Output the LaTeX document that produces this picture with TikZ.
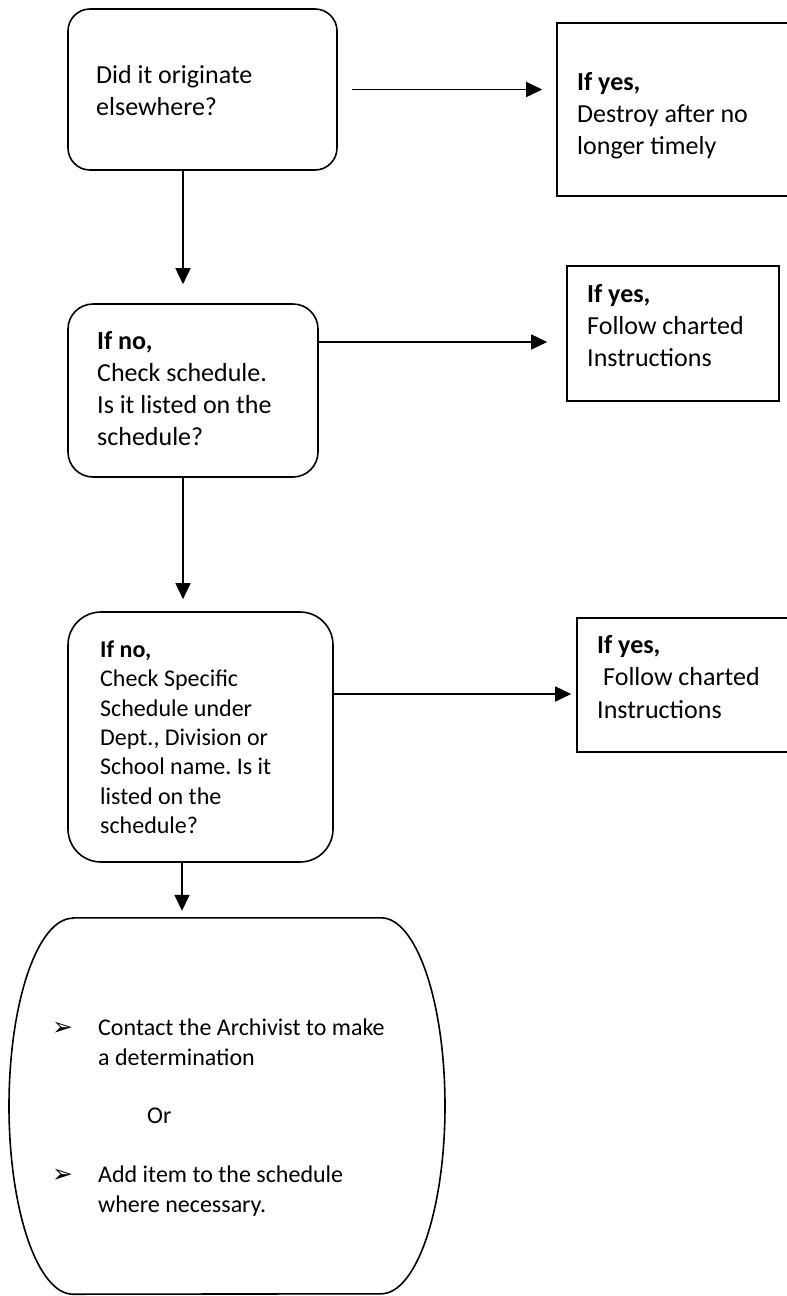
\documentclass[tikz,border=0pt]{standalone}
\usepackage{fontspec}
\setmainfont{Carlito}
\newfontfamily\dingfont{DejaVu Sans}
\usepackage{tikz}
\usetikzlibrary{arrows.meta,positioning}
\frenchspacing
\newcommand{\bigtxt}{\fontsize{26}{32}\selectfont}
\newcommand{\smalltxt}{\fontsize{24}{29.4}\selectfont}
\newcommand{\arrowbullet}{\makebox[46pt][l]{\dingfont\fontsize{25}{25}\selectfont ➢}}

\begin{document}
\begin{tikzpicture}[x=1pt,y=-1pt,
  qbox/.style={draw,line width=1.6pt,inner sep=0pt},
  abox/.style={draw,line width=1.6pt,inner sep=0pt},
  txt/.style={anchor=north west,inner sep=0pt,align=left},
  arr/.style={line width=1.6pt,-{Triangle[length=16pt,width=15pt]}}]
  \useasboundingbox (0,0) rectangle (787,1296);
  % question boxes
  \node[qbox,rounded corners=22pt,minimum width=269pt,minimum height=161pt] (q1) at (202.5,89.5) {};
  \node[qbox,rounded corners=25pt,minimum width=250pt,minimum height=173pt] (q2) at (193,390.5) {};
  \node[qbox,rounded corners=33pt,minimum width=265pt,minimum height=250pt] (q3) at (200.5,737) {};
  % answer boxes
  \node[abox,minimum width=231pt,minimum height=173pt] (a1) at (672.5,109.5) {};
  \node[abox,minimum width=212pt,minimum height=135pt] (a2) at (673,333.5) {};
  \node[abox,minimum width=211pt,minimum height=134pt] (a3) at (682.5,685) {};
  % last step
  \node[minimum width=436pt,minimum height=376pt,inner sep=0pt] (last) at (227,1106) {};
  \draw[line width=1.6pt] ([xshift=-154pt]last.north) -- ([xshift=154pt]last.north)
    arc[start angle=90,end angle=-90,x radius=64pt,y radius=188pt]
    -- ([xshift=-154pt]last.south)
    arc[start angle=270,end angle=90,x radius=64pt,y radius=188pt] -- cycle;
  % texts
  \node[txt,font=\bigtxt] (q1t) at (96,60.6) {\strut Did it originate\\elsewhere?};
  \node[txt,font=\bigtxt] (a1t) at (577,67.6) {\strut\textbf{If yes,}\\Destroy after no\\longer timely};
  \node[txt,font=\bigtxt] (q2t) at (97,326.6) {\strut\textbf{If no,}\\Check schedule.\\Is it listed on the\\schedule?};
  \node[txt,font=\bigtxt] (a2t) at (587,279.6) {\strut\textbf{If yes,}\\Follow charted\\Instructions};
  \node[txt,font=\smalltxt] (q3t) at (100,636.5) {\strut\textbf{If no,}\\Check Specific\\Schedule under\\Dept., Division or\\School name. Is it\\listed on the\\schedule?};
  \node[txt,font=\fontsize{26}{32.5}\selectfont] (a3t) at (597,630.3) {\strut\textbf{If yes,}\\\hspace*{6pt}Follow charted\\Instructions};
  \node[txt,font=\fontsize{24}{30}\selectfont] (lastt) at (52,1014) {\strut\arrowbullet Contact the Archivist to make\\
    \hspace*{46pt}a determination\\[28pt]
    \hspace*{95pt}Or\\[29pt]
    \arrowbullet Add item to the schedule\\
    \hspace*{46pt}where necessary.};
  % arrows
  \coordinate (s1) at ([xshift=14pt]q1.east);
  \coordinate (d1) at ([xshift=-19.5pt]q1.south);
  \coordinate (s2) at ([yshift=48.5pt]q2.east);
  \coordinate (d2) at ([xshift=-10pt]q2.south);
  \coordinate (s3) at ([yshift=43pt]q3.east);
  \coordinate (d3) at ([xshift=-18.5pt]q3.south);
  \draw[arr,shorten >=14pt] (s1) -- (s1 -| a1.west);
  \draw[arr,shorten >=19pt] (d1) -- (d1 |- q2.north);
  \draw[arr,shorten >=19pt] (s2) -- (s2 -| a2.west);
  \draw[arr,shorten >=12pt] (d2) -- (d2 |- q3.north);
  \draw[arr,shorten >=5pt] (s3) -- (s3 -| a3.west);
  \draw[arr,shorten >=7pt] (d3) -- (d3 |- last.north);
\end{tikzpicture}
\end{document}
